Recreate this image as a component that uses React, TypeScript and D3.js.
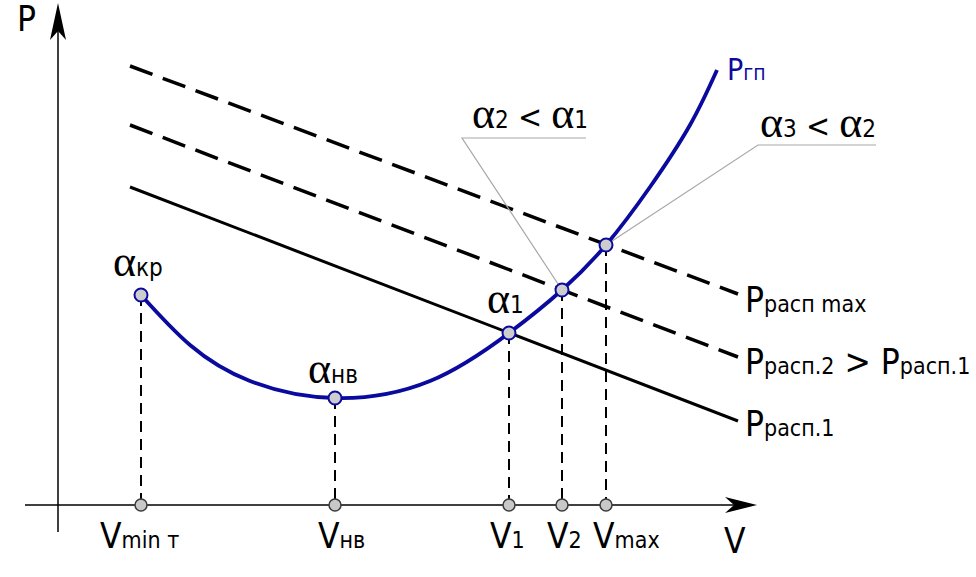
import React from "react";
import * as d3 from "d3";

// Curve P_гп (V, P) in diagram units
const curveV = [83, 132, 192, 277, 372, 451, 504, 548, 592, 632, 659];
const curveP = [210, 160, 124, 107, 124, 172, 215, 260, 318, 380, 435];

// Straight lines P_расп: [V start, P start, V end, P end]
const lineNames = ["Pрасп.1", "Pрасп.2", "Pрасп max"];
const lineStart = [[72, 318], [72, 380], [72, 439]];
const lineEnd = [[680, 84], [680, 148], [680, 211]];
const lineDashed = [false, true, true];

// Key points
const keyLabels = ["кр", "нв", "1", "2", "3"];
const keyV = [83, 277, 451, 504, 548];
const keyP = [210, 107, 172, 215, 260];
const tickMain = ["V", "V", "V", "V", "V"];
const tickSub = ["min т", "нв", "1", "2", "max"];

const W = 976, H = 577;
const SANS = "'DejaVu Sans', Verdana, sans-serif";
const SERIF = "'Liberation Serif', 'Times New Roman', serif";
const BLUE = "#0a0a9e";

type Part = { t: string; s: number; f?: string; c?: string };

function Label({ x, y, parts, fill = "#000" }: { x: number; y: number; parts: Part[]; fill?: string }) {
  return (
    <text x={x} y={y} fill={fill} style={{ whiteSpace: "pre", fontStretch: "condensed" }}>
      {parts.map((p, i) => (
        <tspan key={i} fontSize={p.s} fontFamily={p.f || SANS} fill={p.c || fill}>
          {p.t}
        </tspan>
      ))}
    </text>
  );
}

export default function App() {
  const x = d3.scaleLinear().domain([0, 700]).range([58, 758]);
  const y = d3.scaleLinear().domain([0, 500]).range([505, 5]);

  const curvePts: [number, number][] = curveV.map((v, i) => [x(v), y(curveP[i])]);
  const curvePath = d3.line().curve(d3.curveNatural)(curvePts) || "";

  const x0 = x(0), y0 = y(0);
  const M = 35, S = 23;

  const axisLabelX = [100, 318, 490, 547, 593];

  return (
    <svg width={W} height={H} style={{ display: "block", position: "absolute", left: 0, top: 0, background: "#fff" }}>
      {/* axes */}
      <line x1={x0} y1={532} x2={x0} y2={30} stroke="#000" strokeWidth={1.5} />
      <path d={`M${x0},3 L${x0 + 8},40 L${x0},31 L${x0 - 8},40 Z`} fill="#000" />
      <line x1={25} y1={y0} x2={740} y2={y0} stroke="#000" strokeWidth={1.5} />
      <path d={`M757,${y0} L725,${y0 - 8} L734,${y0} L725,${y0 + 8} Z`} fill="#000" />

      {/* straight lines */}
      {lineNames.map((n, i) => (
        <line
          key={n}
          x1={x(lineStart[i][0])}
          y1={y(lineStart[i][1])}
          x2={x(lineEnd[i][0])}
          y2={y(lineEnd[i][1])}
          stroke="#000"
          strokeWidth={lineDashed[i] ? 3.5 : 3}
          strokeDasharray={lineDashed[i] ? "24 11" : undefined}
        />
      ))}

      {/* vertical dashed drops */}
      {keyV.map((v, i) => (
        <line key={i} x1={x(v)} y1={y(keyP[i])} x2={x(v)} y2={y0} stroke="#000" strokeWidth={2} strokeDasharray="11 7" />
      ))}

      {/* leader lines */}
      <polyline points={`586,138 462,138 ${x(keyV[3])},${y(keyP[3])}`} fill="none" stroke="#a8a8a8" strokeWidth={1.2} />
      <polyline points={`876,145 758,145 ${x(keyV[4])},${y(keyP[4])}`} fill="none" stroke="#a8a8a8" strokeWidth={1.2} />

      {/* curve */}
      <path d={curvePath} fill="none" stroke={BLUE} strokeWidth={3.8} />

      {/* points on curve */}
      {keyV.map((v, i) => (
        <circle key={i} cx={x(v)} cy={y(keyP[i])} r={6.5} fill="#cdcdcd" stroke={BLUE} strokeWidth={2} />
      ))}
      {/* points on axis */}
      {keyV.map((v, i) => (
        <circle key={i} cx={x(v)} cy={y0} r={6} fill="#c8c8c8" stroke="#3a3a3a" strokeWidth={1.5} />
      ))}

      {/* axis labels */}
      <Label x={17} y={31} parts={[{ t: "P", s: M }]} />
      <Label x={724} y={553} parts={[{ t: "V", s: M }]} />

      {tickMain.map((t, i) => (
        <Label key={i} x={axisLabelX[i]} y={548} parts={[{ t, s: M }, { t: tickSub[i], s: S }]} />
      ))}

      {/* curve label */}
      <Label x={727} y={80} fill={BLUE} parts={[{ t: "P", s: 30 }, { t: "гп", s: 21 }]} />

      {/* line labels */}
      <Label x={745} y={436} parts={[{ t: "P", s: M }, { t: "расп.1", s: S }]} />
      <Label x={745} y={374} parts={[{ t: "P", s: M }, { t: "расп.2", s: S }, { t: " > P", s: M }, { t: "расп.1", s: S }]} />
      <Label x={745} y={312} parts={[{ t: "P", s: M }, { t: "расп max", s: S }]} />

      {/* alpha labels */}
      <Label x={113} y={276} parts={[{ t: "α", s: 44, f: SERIF }, { t: keyLabels[0], s: 24 }]} />
      <Label x={308} y={383} parts={[{ t: "α", s: 44, f: SERIF }, { t: keyLabels[1], s: 24 }]} />
      <Label x={487} y={313} parts={[{ t: "α", s: 44, f: SERIF }, { t: keyLabels[2], s: 24 }]} />
      <Label
        x={472}
        y={128}
        parts={[
          { t: "α", s: 44, f: SERIF },
          { t: "2", s: 24 },
          { t: " < ", s: 32 },
          { t: "α", s: 44, f: SERIF },
          { t: "1", s: 24 },
        ]}
      />
      <Label
        x={760}
        y={137}
        parts={[
          { t: "α", s: 44, f: SERIF },
          { t: "3", s: 24 },
          { t: " < ", s: 32 },
          { t: "α", s: 44, f: SERIF },
          { t: "2", s: 24 },
        ]}
      />
    </svg>
  );
}
